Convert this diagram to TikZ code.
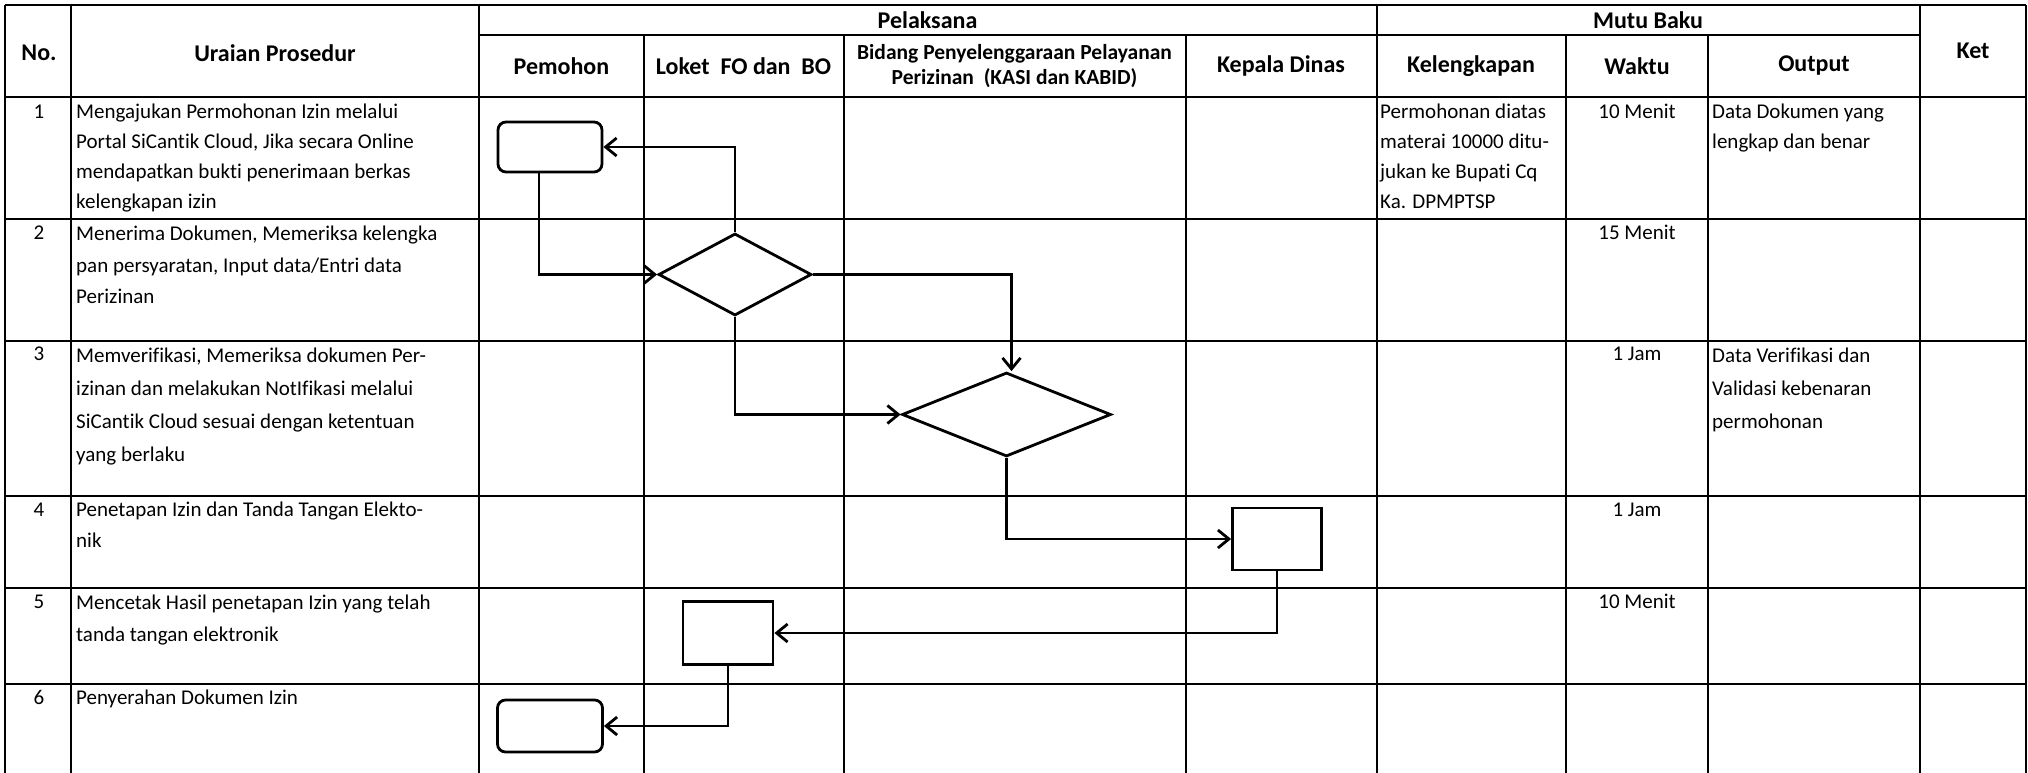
\documentclass[tikz,border=0pt]{standalone}
\usepackage{fontspec}
\setmainfont{Carlito}[Ligatures={NoCommon}]
\usetikzlibrary{shapes.geometric,arrows.meta}
\begin{document}
\begin{tikzpicture}[x=1pt,y=-1pt,
  gridline/.style={line width=2pt},
  flow/.style={line width=2.8pt, -{Straight Barb[length=11pt,width=18pt]}},
  shp/.style={draw, line width=2.8pt, inner sep=0pt},
  rbox/.style={shp, rectangle, rounded corners=8pt},
  sbox/.style={shp, rectangle},
  dec/.style={shp, diamond},
  hd/.style={font=\fontsize{24}{28}\selectfont\bfseries, inner sep=0pt, align=center},
  hdsmall/.style={font=\fontsize{21.5}{25}\selectfont\bfseries, inner sep=0pt, align=center},
  body/.style={font=\fontsize{21}{#1}\selectfont, inner sep=0pt, anchor=north west, align=left},
  body/.default=30,
  num/.style={font=\fontsize{21}{30}\selectfont, inner sep=0pt, anchor=north},
]
\useasboundingbox (0,0) rectangle (2028,773);
\fill[white] (0,0) rectangle (2028,773);
% ---- table grid ----
\foreach \yy in {5,97.5,219,341,496,588,684}
  \draw[gridline] (5,\yy) -- (2026,\yy);
\draw[gridline] (479,35) -- (1920,35);
\foreach \xx in {5,71,479,1376.5,1920,2026}
  \draw[gridline] (\xx,5) -- (\xx,773);
\foreach \xx in {644,843.5,1186,1566,1708}
  \draw[gridline] (\xx,35) -- (\xx,773);
% ---- headers ----
\node[hd] (hno) at (39,53) {No.};
\node[hd] (hur) at (275,53) {Uraian Prosedur};
\node[hd] (hpel) at (927.5,20) {Pelaksana};
\node[hd] (hmb) at (1648,20) {Mutu Baku};
\node[hd] (hket) at (1973,51) {Ket};
\node[hd] (hpem) at (561.5,66) {Pemohon};
\node[hd] (hlok) at (743.5,66) {Loket\ \ FO dan\ \ BO};
\node[hdsmall] (hbid) at (1014.5,66) {Bidang Penyelenggaraan Pelayanan\\Perizinan\ \ (KASI dan KABID)};
\node[hd] (hkep) at (1281,66) {Kepala Dinas};
\node[hd] (hkel) at (1471,66) {Kelengkapan};
\node[hd] (hwak) at (1637,66) {Waktu};
\node[hd] (hout) at (1814,66) {Output};
% ---- numbers ----
\node[num] (n1) at (39,97) {\strut 1};
\node[num] (n2) at (39,218.5) {\strut 2};
\node[num] (n3) at (39,339.5) {\strut 3};
\node[num] (n4) at (39,495) {\strut 4};
\node[num] (n5) at (39,587) {\strut 5};
\node[num] (n6) at (39,683) {\strut 6};
% ---- uraian ----
\node[body=30] (u1) at (76,97) {\strut Mengajukan Permohonan Izin melalui\\Portal SiCantik Cloud, Jika secara Online\\mendapatkan bukti penerimaan berkas\\kelengkapan izin};
\node[body=31.5] (u2) at (76,218.5) {\strut Menerima Dokumen, Memeriksa kelengka\\pan persyaratan, Input data/Entri data\\Perizinan};
\node[body=33] (u3) at (76,339.5) {\strut Memverifikasi, Memeriksa dokumen Per-\\izinan dan melakukan NotIfikasi melalui\\SiCantik Cloud sesuai dengan ketentuan\\yang berlaku};
\node[body=31] (u4) at (76,495) {\strut Penetapan Izin dan Tanda Tangan Elekto-\\nik};
\node[body=32] (u5) at (76,587) {\strut Mencetak Hasil penetapan Izin yang telah\\tanda tangan elektronik};
\node[body=30] (u6) at (76,683) {\strut Penyerahan Dokumen Izin};
% ---- mutu baku ----
\node[body=30] (k1) at (1380,97) {\strut Permohonan diatas\\materai 10000 ditu-\\jukan ke Bupati Cq\\Ka. DPMPTSP};
\node[num] (w1) at (1637,97) {\strut 10 Menit};
\node[num] (w2) at (1637,218.5) {\strut 15 Menit};
\node[num] (w3) at (1637,339.5) {\strut 1 Jam};
\node[num] (w4) at (1637,495) {\strut 1 Jam};
\node[num] (w5) at (1637,587) {\strut 10 Menit};
\node[body=30] (o1) at (1712,97) {\strut Data Dokumen yang\\lengkap dan benar};
\node[body=33] (o3) at (1712,339.5) {\strut Data Verifikasi dan\\Validasi kebenaran\\permohonan};
% ---- flow shapes ----
\node[rbox, minimum width=104pt, minimum height=50pt] (r1) at (550,147) {};
\node[dec, minimum width=153pt, minimum height=82pt] (d1) at (735,274.5) {};
\node[dec, minimum width=209pt, minimum height=84pt] (d2) at (1006.5,414.5) {};
\node[sbox, minimum width=89pt, minimum height=62pt] (r4) at (1277,539) {};
\node[sbox, minimum width=90pt, minimum height=63pt] (r5) at (728,633) {};
\node[rbox, minimum width=105pt, minimum height=52pt] (r6) at (550,726) {};
% ---- connectors ----
\draw[flow] (d1.north) |- (r1.east);
\draw[flow] ([xshift=-11pt]r1.south) |- (d1.west);
\draw[flow] (d1.east) -| ([xshift=5pt]d2.north);
\draw[flow] (d1.south) |- (d2.west);
\draw[flow] (d2.south) |- (r4.west);
\draw[flow] (r4.south) |- (r5.east);
\draw[flow] (r5.south) |- (r6.east);
\end{tikzpicture}
\end{document}
